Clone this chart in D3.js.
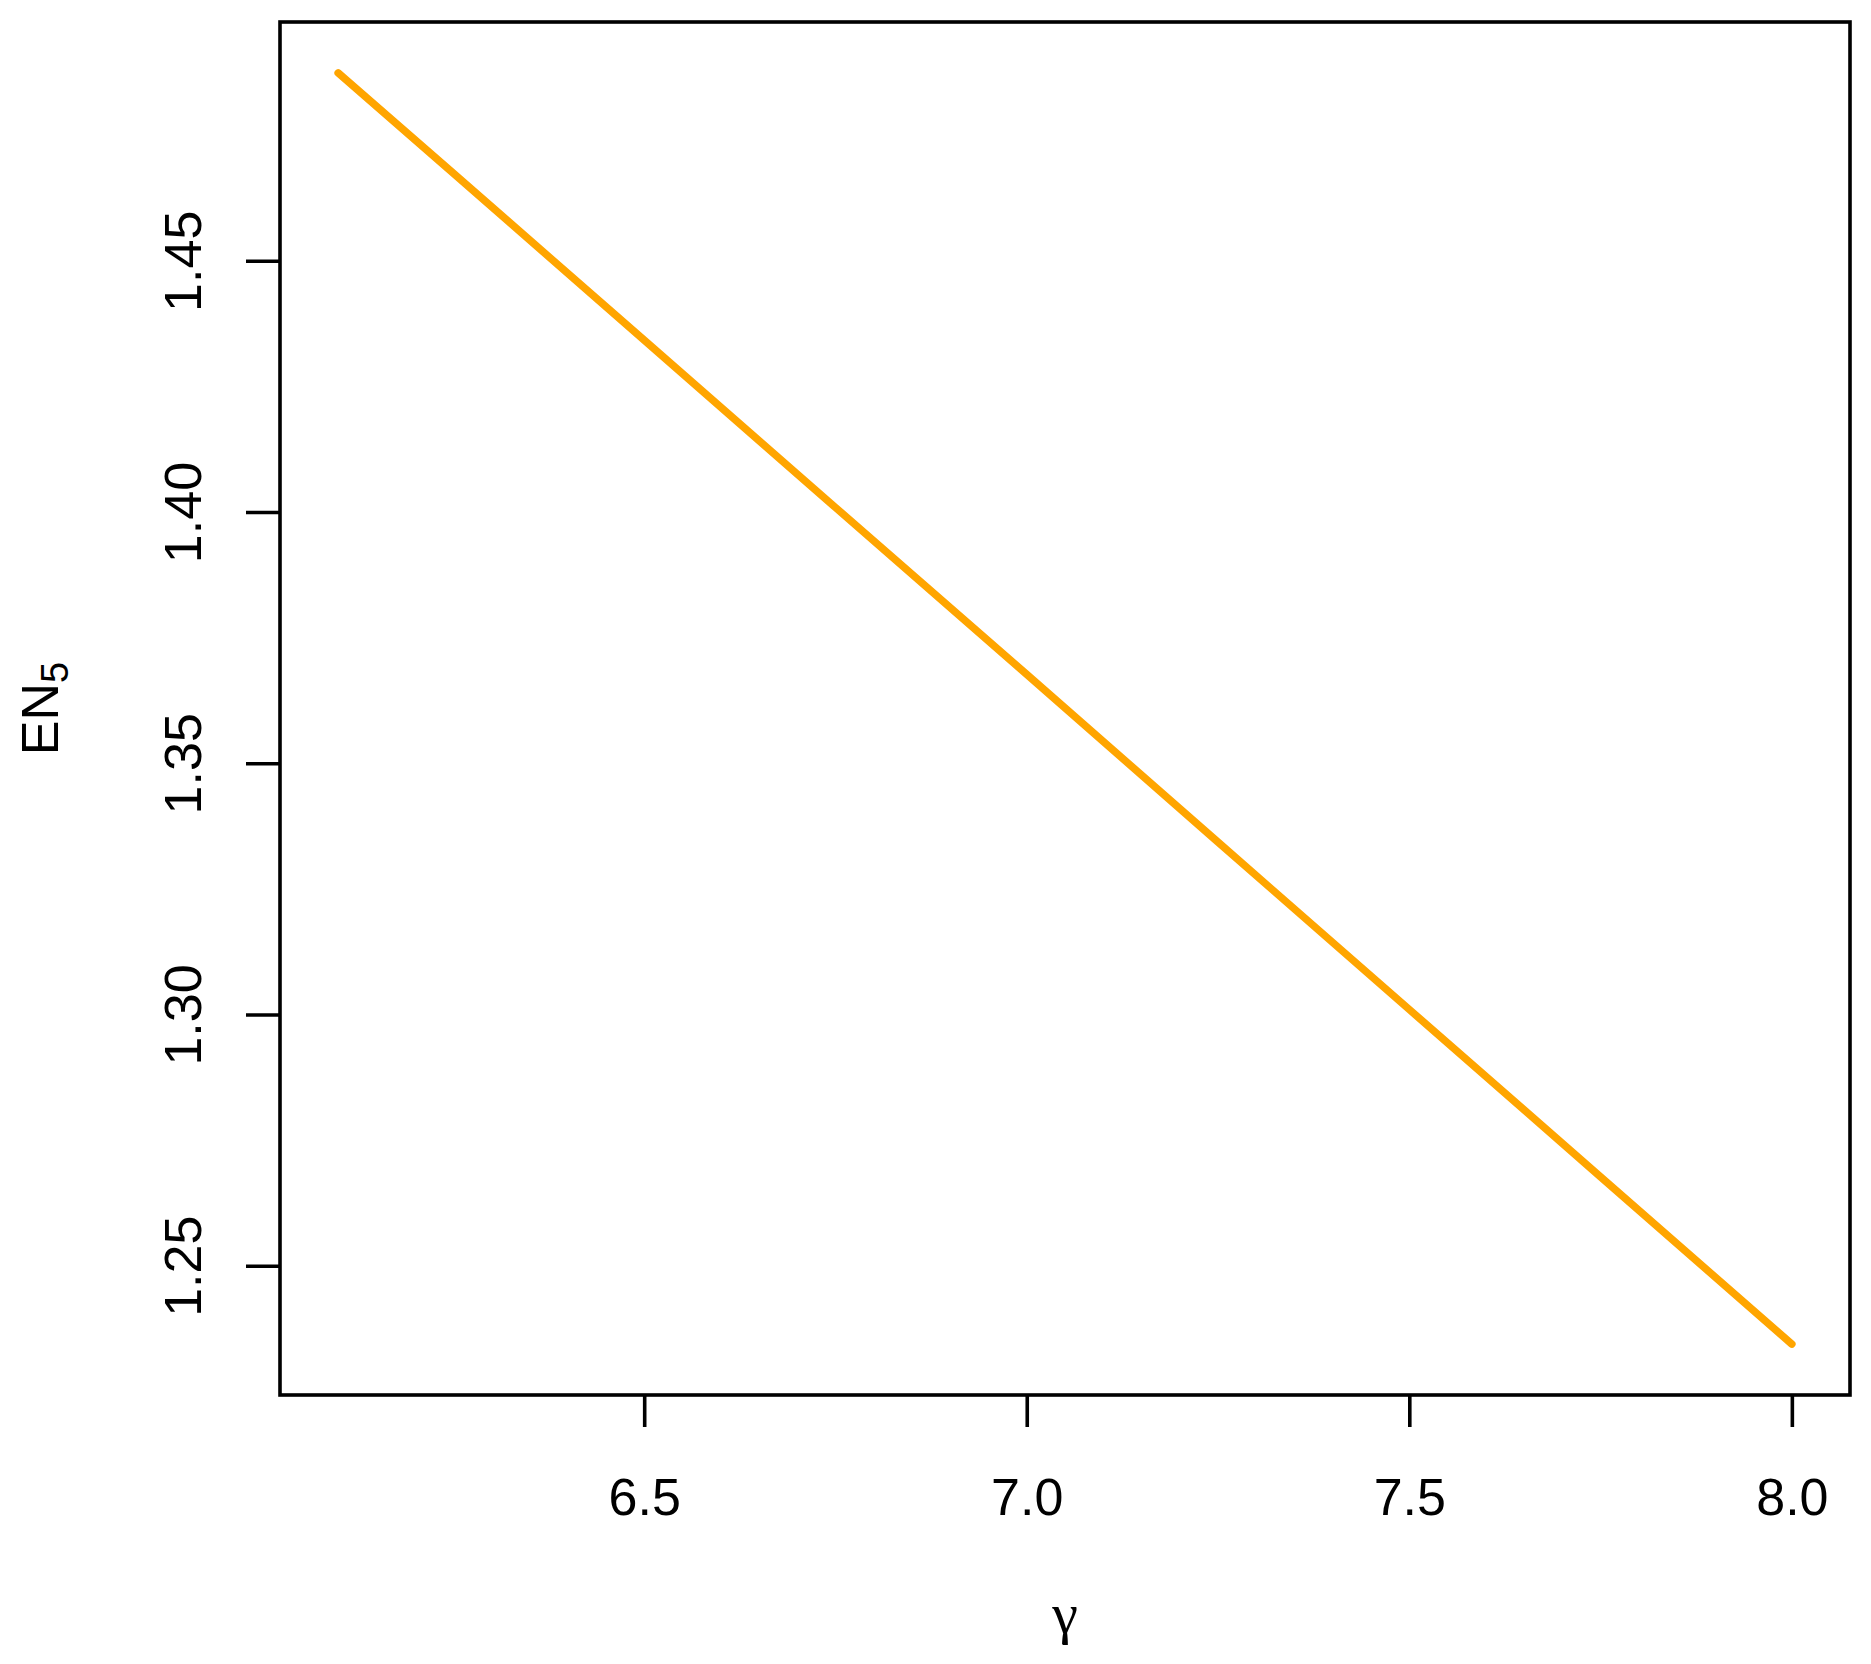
<!DOCTYPE html>
<html>
<head>
<meta charset="utf-8">
<script src="https://cdn.jsdelivr.net/npm/d3@7"></script>
<style>
  body { margin: 0; background: #fff; }
  svg text { font-family: "Liberation Sans", Arial, sans-serif; fill: #000; }
</style>
</head>
<body>
<svg id="chart" width="1871" height="1664"></svg>
<script>
const gammaValues = [6.1, 6.25, 6.5, 6.75, 7.0, 7.25, 7.5, 7.75, 8.0];
const en5Values   = [1.4874, 1.4675, 1.4342, 1.4009, 1.3677, 1.3343, 1.3010, 1.2677, 1.2344];
const xTicks = [6.5, 7.0, 7.5, 8.0];
const yTicks = [1.25, 1.30, 1.35, 1.40, 1.45];

(function () {
const svg = d3.select("#chart");
const pL = 280, pR = 1850, pT = 22, pB = 1395;

function padded(arr) {
  const [a, b] = d3.extent(arr);
  const p = (b - a) * 0.04;
  return [a - p, b + p];
}

const x = d3.scaleLinear().domain(padded(gammaValues)).range([pL, pR]);
const y = d3.scaleLinear().domain(padded(en5Values)).range([pB, pT]);

const data = gammaValues.map((g, i) => ({ g, v: en5Values[i] }));

// line
svg.append("path")
  .datum(data)
  .attr("fill", "none")
  .attr("stroke", "#FFA500")
  .attr("stroke-width", 7.5)
  .attr("stroke-linecap", "round")
  .attr("stroke-linejoin", "round")
  .attr("d", d3.line().x(d => x(d.g)).y(d => y(d.v)));

// box
svg.append("rect")
  .attr("x", pL).attr("y", pT)
  .attr("width", pR - pL).attr("height", pB - pT)
  .attr("fill", "none").attr("stroke", "#000").attr("stroke-width", 3.6);

// x axis
const xAxis = d3.axisBottom(x).tickValues(xTicks).tickSize(32).tickPadding(0)
  .tickFormat(d3.format(".1f"));
const gx = svg.append("g").attr("transform", `translate(0,${pB})`).call(xAxis);
gx.select(".domain").remove();
gx.selectAll(".tick line").attr("stroke", "#000").attr("stroke-width", 3.6);
gx.selectAll(".tick text")
  .attr("y", 120).attr("dy", null)
  .style("font-size", "52px")
  .style("font-family", "'Liberation Sans', Arial, sans-serif");

// y axis
const yAxis = d3.axisLeft(y).tickValues(yTicks).tickSize(34).tickPadding(0)
  .tickFormat(d3.format(".2f"));
const gy = svg.append("g").attr("transform", `translate(${pL},0)`).call(yAxis);
gy.select(".domain").remove();
gy.selectAll(".tick line").attr("stroke", "#000").attr("stroke-width", 3.6);
gy.selectAll(".tick text")
  .attr("x", null).attr("dy", null)
  .attr("text-anchor", "middle")
  .attr("transform", "translate(-79,0) rotate(-90)")
  .style("font-size", "52px")
  .style("font-family", "'Liberation Sans', Arial, sans-serif");

// x title
svg.append("text")
  .attr("x", (pL + pR) / 2).attr("y", 1633)
  .attr("text-anchor", "middle")
  .style("font-family", "'Liberation Serif', 'DejaVu Serif', serif")
  .style("font-size", "58px")
  .text("γ");

// y title
const yt = svg.append("text")
  .attr("transform", `translate(58,${(pT + pB) / 2}) rotate(-90)`)
  .attr("text-anchor", "middle")
  .style("font-size", "52px");
yt.append("tspan").text("EN");
yt.append("tspan").attr("dy", 10).style("font-size", "38px").text("5");
})();
</script>
</body>
</html>
